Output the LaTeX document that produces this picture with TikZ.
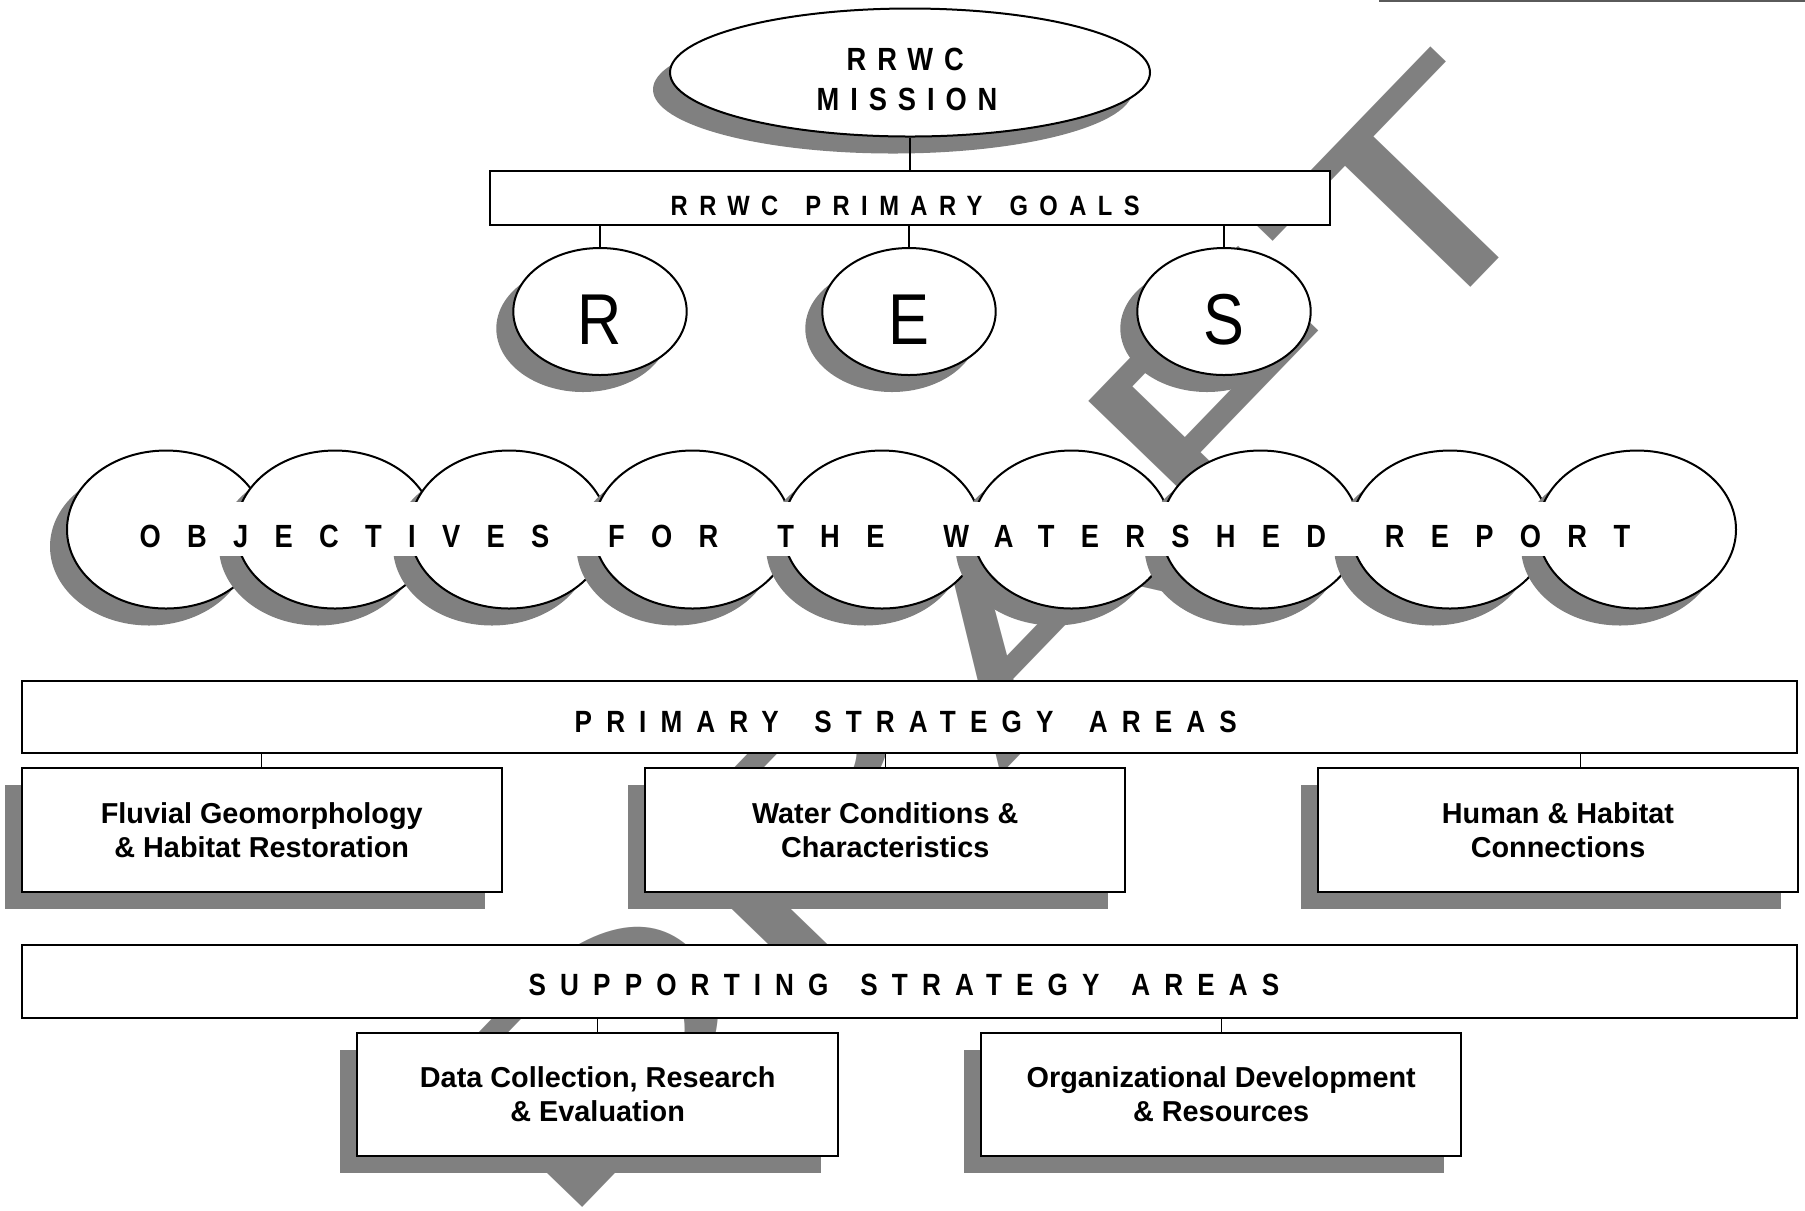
\documentclass[tikz,border=0pt]{standalone}
\usepackage{fontspec}
\setmainfont{Liberation Sans}
\newfontfamily\missionfont[FakeStretch=0.85,LetterSpace=34]{Liberation Sans}
\newfontfamily\goalsfont[FakeStretch=0.85,LetterSpace=41]{Liberation Sans}
\newfontfamily\bannerfont[FakeStretch=0.85,LetterSpace=46]{Liberation Sans}
\newfontfamily\objfont[FakeStretch=0.85,LetterSpace=82]{Liberation Sans}
\newfontfamily\letterfont[FakeStretch=0.85]{Liberation Sans}
\newfontfamily\wmfont[FakeStretch=1.55]{Liberation Sans}
\usetikzlibrary{shapes.geometric,shadows}
\definecolor{shade}{RGB}{128,128,128}
\definecolor{rulegray}{RGB}{90,90,90}

\begin{document}
\begin{tikzpicture}[x=0.1mm,y=-0.1mm,
  shadowed/.style={drop shadow={shadow xshift=-1.7mm,shadow yshift=-1.7mm,fill=shade,opacity=1}},
  oval/.style={ellipse,draw,fill=white,line width=0.2mm,inner sep=0pt},
  plainbox/.style={rectangle,draw,fill=white,line width=0.2mm,inner sep=0pt},
  areabox/.style={plainbox,shadowed,minimum width=48mm,minimum height=12.34mm,
    font=\bfseries\fontsize{8.2}{9.5}\selectfont,align=center},
  objoval/.style={oval,shadowed,minimum width=19.8mm,minimum height=15.8mm},
  goaloval/.style={oval,shadowed,minimum width=17.34mm,minimum height=12.7mm,
    font=\letterfont\fontsize{20.5}{20.5}\selectfont,text height=6.67mm,text depth=0pt},
  spaced/.style={inner sep=0pt,anchor=base west},
  link/.style={line width=0.13mm},
]
\useasboundingbox (0,0) rectangle (1805,1210);

% watermark
\node[font=\wmfont\fontsize{81}{81}\selectfont,text=shade,rotate=46,anchor=base west,inner sep=0pt]
  (draft) at (557,1234) {DRAFT};

% thin rule at the top edge
\coordinate (ruleA) at (1379,0.8);
\coordinate (ruleB) at (1805,0.8);
\draw[rulegray,line width=0.16mm] (ruleA) -- (ruleB);

% mission
\node[oval,shadowed,minimum width=48mm,minimum height=12.8mm] (mission) at (910,72.5) {};
\node[spaced,font=\missionfont\bfseries\fontsize{9.13}{11}\selectfont] (missionA) at (846,70) {RRWC};
\node[spaced,font=\missionfont\bfseries\fontsize{9.13}{11}\selectfont] (missionB) at (816,110) {MISSION};

% primary goals
\node[plainbox,minimum width=83.98mm,minimum height=5.4mm] (goals) at (909.7,198) {};
\node[spaced,font=\goalsfont\bfseries\fontsize{7.94}{9}\selectfont] (goalstext) at (670,215)
  {RRWC\hspace{0.9mm} PRIMARY\hspace{0.9mm} GOALS};

\node[goaloval] (goalR) at (600,311.5) {R};
\node[goaloval] (goalE) at (909,311.5) {E};
\node[goaloval] (goalS) at (1224,311.5) {S};

\draw[link] (mission.south) -- (mission.south |- goals.north);
\draw[link] (goals.south -| goalR.north) -- (goalR.north);
\draw[link] (goals.south -| goalE.north) -- (goalE.north);
\draw[link] (goals.south -| goalS.north) -- (goalS.north);

% objectives row
\foreach \cx [count=\i] in {166,335,509,692.5,882,1071.5,1260.5,1450,1637}
  \node[objoval] (obj\i) at (\cx,529.5) {};
\node[fill=white,inner xsep=1.5mm,inner ysep=0pt,text height=4.56mm,text depth=0.87mm,
  anchor=base west,font=\objfont\bfseries\fontsize{9.13}{11}\selectfont]
  (objtext) at (124,547.3)
  {OBJECTIVES\hspace{2.5mm} FOR\hspace{2.5mm} THE\hspace{2.5mm} WATERSHED\hspace{2.5mm} REPORT};

% primary strategy areas
\node[plainbox,minimum width=177.53mm,minimum height=7.26mm] (psa) at (909.35,717) {};
\node[spaced,font=\bannerfont\bfseries\fontsize{8.74}{10}\selectfont] (psatext) at (574,732.7)
  {PRIMARY\hspace{1.4mm} STRATEGY\hspace{1.4mm} AREAS};

\node[areabox] (fluv) at (261.7,830) {Fluvial Geomorphology\\\& Habitat Restoration};
\node[areabox] (water) at (885.2,830) {Water Conditions \&\\Characteristics};
\node[areabox] (human) at (1558,830) {Human \& Habitat\\Connections};

\coordinate (humtop) at ([xshift=2.25mm]human.north);
\draw[link] (psa.south -| fluv.north) -- (fluv.north);
\draw[link] (psa.south -| water.north) -- (water.north);
\draw[link] (humtop |- psa.south) -- (humtop);

% supporting strategy areas
\node[plainbox,minimum width=177.53mm,minimum height=7.27mm] (ssa) at (909.35,981.35) {};
\node[spaced,font=\bannerfont\bfseries\fontsize{8.74}{10}\selectfont] (ssatext) at (528,995)
  {SUPPORTING\hspace{1.05mm} STRATEGY\hspace{1.05mm} AREAS};

\node[areabox,minimum width=48.05mm,minimum height=12.3mm] (data) at (597.7,1094.2) {Data Collection, Research\\\& Evaluation};
\node[areabox,minimum width=48.05mm,minimum height=12.3mm] (org) at (1221.2,1094.2) {Organizational Development\\\& Resources};

\draw[link] (ssa.south -| data.north) -- (data.north);
\draw[link] (ssa.south -| org.north) -- (org.north);
\end{tikzpicture}
\end{document}
